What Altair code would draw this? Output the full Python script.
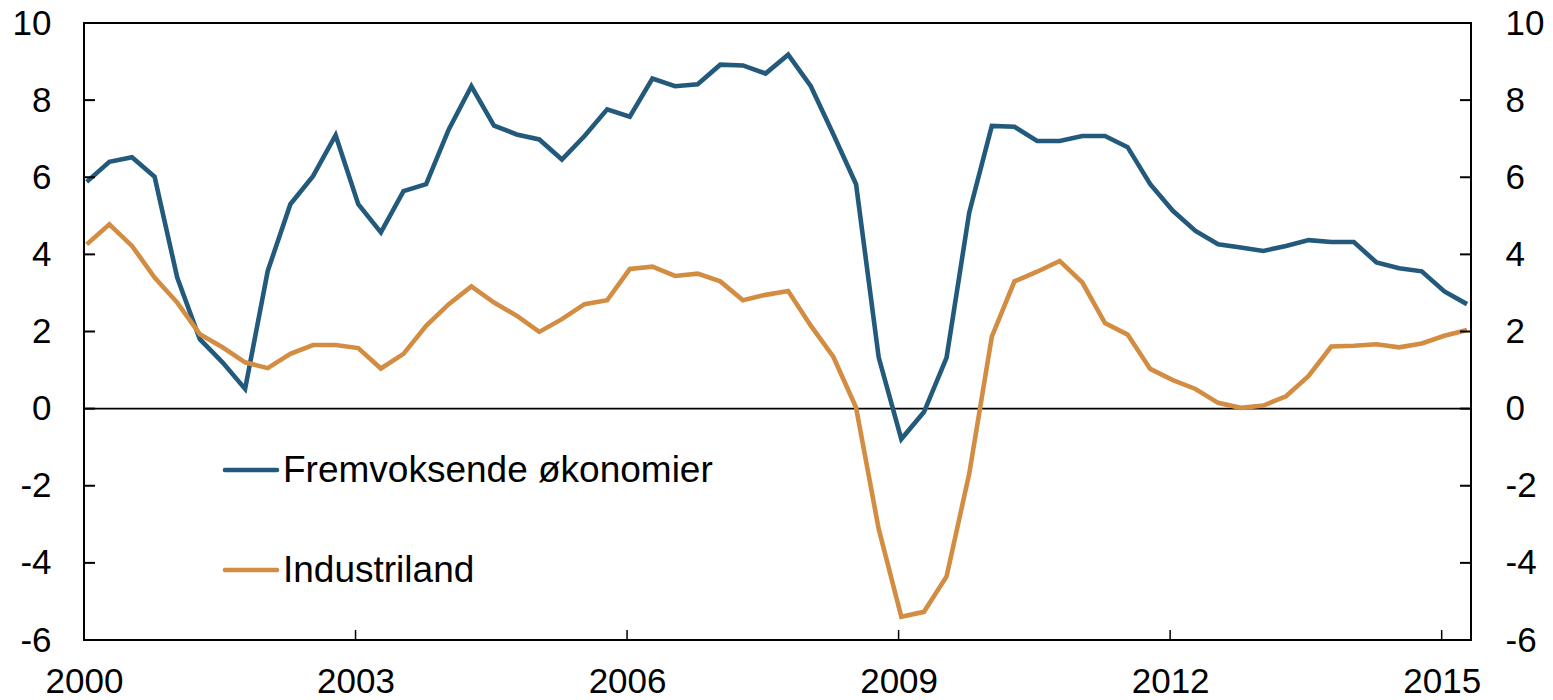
import altair as alt
import pandas as pd

# ---- data (quarterly, 2000 K1 - 2015 K2) ----
series_names = ["Fremvoksende økonomier", "Industriland"]
series_colors = ["#235A7C", "#D38D42"]

fremvoksende = [5.88, 6.40, 6.52, 6.01, 3.40, 1.80, 1.20, 0.51, 3.57, 5.30,
                6.03, 7.09, 5.30, 4.57, 5.64, 5.82, 7.24, 8.36, 7.34, 7.11,
                6.98, 6.46, 7.07, 7.76, 7.57, 8.56, 8.36, 8.41, 8.92, 8.90,
                8.69, 9.18, 8.36, 7.11, 5.82, 1.33, -0.79, -0.09, 1.32, 5.08,
                7.33, 7.31, 6.94, 6.94, 7.07, 7.07, 6.78, 5.82, 5.13, 4.61,
                4.26, 4.18, 4.09, 4.22, 4.37, 4.32, 4.32, 3.79, 3.64, 3.56,
                3.04, 2.71]
industriland = [4.26, 4.78, 4.22, 3.40, 2.75, 1.93, 1.59, 1.20, 1.05, 1.42,
                1.65, 1.65, 1.57, 1.04, 1.42, 2.15, 2.71, 3.17, 2.75, 2.41,
                1.99, 2.32, 2.71, 2.81, 3.62, 3.68, 3.44, 3.50, 3.30, 2.81,
                2.95, 3.05, 2.15, 1.34, 0.03, -3.12, -5.40, -5.27, -4.35, -1.69,
                1.87, 3.30, 3.55, 3.83, 3.27, 2.22, 1.92, 1.03, 0.74, 0.51,
                0.15, 0.02, 0.08, 0.32, 0.85, 1.61, 1.63, 1.67, 1.59, 1.69,
                1.89, 2.04]

quarters = [2000.03 + 0.25 * i for i in range(len(fremvoksende))]
x_ticks = [2000, 2003, 2006, 2009, 2012, 2015]
y_ticks = [-6, -4, -2, 0, 2, 4, 6, 8, 10]

rows = []
for name, vals in zip(series_names, [fremvoksende, industriland]):
    for q, v in zip(quarters, vals):
        rows.append({"t": q, "v": v, "serie": name})
df = pd.DataFrame(rows)

W, H = 1387, 617
FONT = "Liberation Sans"
FS = 35

xscale = alt.Scale(domain=[2000, 2015.324], nice=False, zero=False)
yscale = alt.Scale(domain=[-6, 10], nice=False, zero=False)
cscale = alt.Scale(domain=series_names, range=series_colors)

x_axis = alt.Axis(values=x_ticks, format="d", ticks=False, tickSize=0,
                  domain=False, grid=False, labelFont=FONT, labelFontSize=FS,
                  labelColor="black", labelPadding=24, labelFlush=False)

lines = alt.Chart(df).mark_line(strokeWidth=4.6, strokeJoin="miter").encode(
    x=alt.X("t:Q", scale=xscale, title=None, axis=x_axis),
    y=alt.Y("v:Q", scale=yscale, title=None,
            axis=alt.Axis(values=y_ticks, orient="left", ticks=False, tickSize=0,
                          domain=False, grid=False, labelFont=FONT, labelFontSize=FS,
                          labelColor="black", labelPadding=33,
                          labelExpr="datum.value + ''")),
    color=alt.Color("serie:N", scale=cscale, legend=None),
    order=alt.Order("t:Q"),
)

zero = alt.Chart(pd.DataFrame({"z": [0]})).mark_rule(color="black", strokeWidth=1.6).encode(
    y=alt.Y("z:Q", scale=yscale, title=None,
            axis=alt.Axis(values=y_ticks, orient="right", ticks=False, tickSize=0,
                          domain=False, grid=False, labelFont=FONT, labelFontSize=FS,
                          labelColor="black", labelPadding=34,
                          labelExpr="datum.value + ''")),
)

ydf = pd.DataFrame({"yt": y_ticks})
xdf = pd.DataFrame({"xt": x_ticks})
tick_left = alt.Chart(ydf).mark_rule(color="black", strokeWidth=2).encode(
    y=alt.Y("yt:Q", scale=yscale, axis=None), x=alt.value(0), x2=alt.value(11))
tick_right = alt.Chart(ydf).mark_rule(color="black", strokeWidth=2).encode(
    y=alt.Y("yt:Q", scale=yscale, axis=None), x=alt.value(W - 11), x2=alt.value(W))
tick_bottom = alt.Chart(xdf).mark_rule(color="black", strokeWidth=1.5).encode(
    x=alt.X("xt:Q", scale=xscale, title=None, axis=x_axis),
    y=alt.value(H - 10), y2=alt.value(H))

leg_df = pd.DataFrame({"serie": series_names})
leg_layers = []
for i, name in enumerate(series_names):
    d = leg_df[leg_df.serie == name]
    yy = 447 + 100 * i
    leg_layers.append(alt.Chart(d).mark_rule(strokeWidth=4.6, strokeCap="round").encode(
        x=alt.value(141), x2=alt.value(193), y=alt.value(yy),
        color=alt.Color("serie:N", scale=cscale, legend=None)))
    leg_layers.append(alt.Chart(d).mark_text(
        align="left", baseline="alphabetic", font=FONT, fontSize=37, color="black").encode(
        x=alt.value(199), y=alt.value(yy + 12), text="serie:N"))

chart = alt.layer(
    zero, lines, tick_left, tick_right, tick_bottom, *leg_layers
).resolve_scale(y="independent").properties(
    width=W, height=H,
    autosize="none",
    padding={"left": 76, "top": 15, "right": 74, "bottom": 60},
).configure_view(stroke="black", strokeWidth=2)

chart.save("out.html", embed_options={"renderer": "svg", "actions": False})
